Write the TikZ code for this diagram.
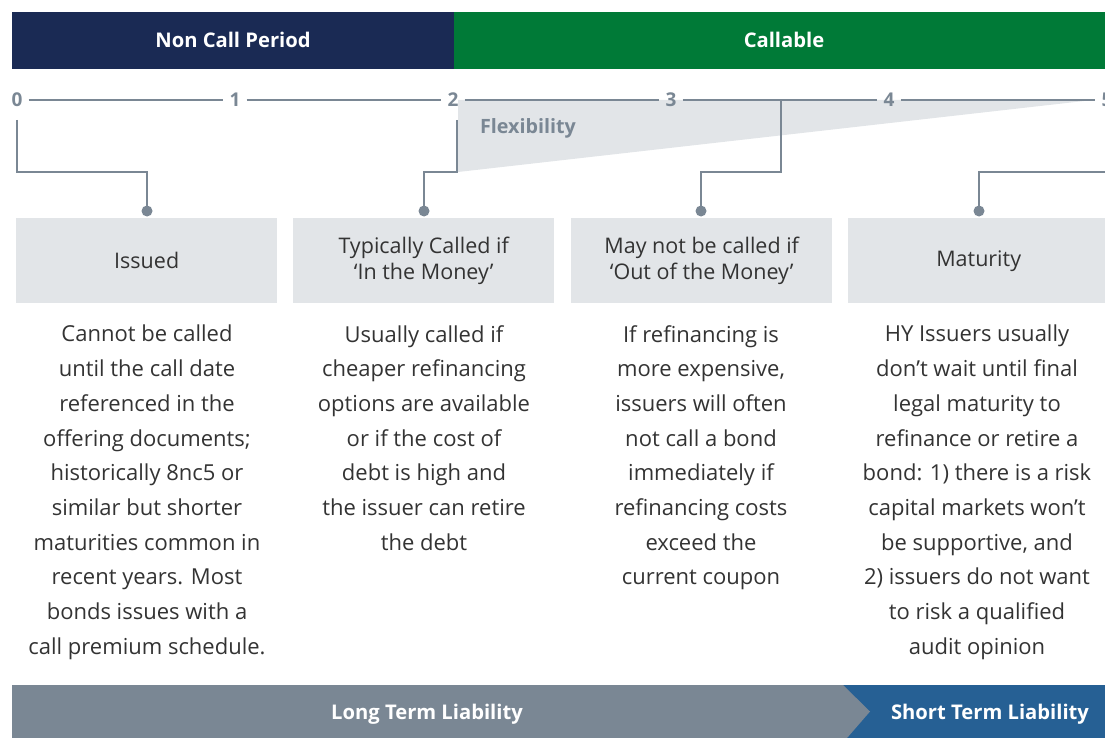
\documentclass[tikz,border=0pt]{standalone}
\usepackage{fontspec}
\setmainfont{Open Sans}
\definecolor{navy}{HTML}{1A2A54}
\definecolor{grn}{HTML}{007A37}
\definecolor{lgrey}{HTML}{E2E5E8}
\definecolor{mgrey}{HTML}{7A8794}
\definecolor{txt}{HTML}{333333}
\definecolor{blu}{HTML}{266094}
\begin{document}
\begin{tikzpicture}[x=1pt,y=-1pt,
  hdr/.style={text=white,font=\bfseries\fontsize{20.2}{22}\selectfont},
  num/.style={text=mgrey,font=\bfseries\fontsize{19}{22}\selectfont,inner sep=6pt},
  conn/.style={draw=mgrey,line width=2.4pt},
  tline/.style={draw=mgrey,line width=2.4pt},
  dotn/.style={circle,fill=mgrey,inner sep=0pt,minimum size=11pt},
  box/.style={fill=lgrey,draw=none,minimum width=261pt,minimum height=85pt,anchor=north west,inner sep=0pt,align=center,text=txt,font=\fontsize{21.5}{26}\selectfont},
  body/.style={anchor=north,inner sep=0pt,align=center,text=txt,font=\fontsize{22}{34.7}\selectfont}]
\useasboundingbox (0,0) rectangle (1105,738);
% header
\fill[navy] (12,12) rectangle (454,69);
\fill[grn] (454,12) rectangle (1105,69);
\node[hdr] (hnc) at (233,40) {Non Call Period};
\node[hdr] (hca) at (784,40) {Callable};
% flexibility wedge
\fill[lgrey] (458,100) -- (458,172) -- (1093,100) -- cycle;
\node[text=mgrey,font=\bfseries\fontsize{19.7}{22}\selectfont] (flex) at (528,128) {Flexibility};
% timeline
\node[num] (n0) at (17,100) {0};
\node[num] (n1) at (235,100) {1};
\node[num] (n2) at (453,100) {2};
\node[num] (n3) at (671,100) {3};
\node[num] (n4) at (889,100) {4};
\node[num] (n5) at (1107,100) {5};
\draw[tline] (n0) -- (n1);
\draw[tline] (n1) -- (n2);
\draw[tline] (n2) -- (n3);
\draw[tline] (n3) -- (n4);
\draw[tline] (n4) -- (n5);
% boxes
\node[box] (b1) at (16,218) {Issued};
\node[box] (b2) at (293,218) {Typically Called if\\‘In the Money’};
\node[box] (b3) at (571,218) {May not be called if\\‘Out of the Money’};
\node[box] (b4) at (848,218) {Maturity};
% dots
\node[dotn] (d1) at (147,211) {};
\node[dotn] (d2) at (424,211) {};
\node[dotn] (d3) at (701,211) {};
\node[dotn] (d4) at (979,211) {};
% connectors
\coordinate (s0) at (17,120);
\coordinate (s2) at (457,120);
\coordinate (s3) at (781,100);
\coordinate (s4) at (1110,172);
\draw[conn] (s0) -- (17,172) -| (d1.center);
\draw[conn] (s2) -- (457,172) -| (d2.center);
\draw[conn] (s3) -- (781,172) -| (d3.center);
\draw[conn] (s4) -| (d4.center);
% body texts
\node[body] (t1) at (147,325) {Cannot be called\\until the call date\\referenced in the\\offering documents;\\historically 8nc5 or\\similar but shorter\\maturities common in\\recent years. Most\\bonds issues with a\\call premium schedule.};
\node[body] (t2) at (424,325) {Usually called if\\cheaper refinancing\\options are available\\or if the cost of\\debt is high and\\the issuer can retire\\the debt};
\node[body] (t3) at (701,325) {If refinancing is\\more expensive,\\issuers will often\\not call a bond\\immediately if\\refinancing costs\\exceed the\\current coupon};
\node[body] (t4) at (977,325) {HY Issuers usually\\don’t wait until final\\legal maturity to\\refinance or retire a\\bond: 1) there is a risk\\capital markets won’t\\be supportive, and\\2) issuers do not want\\to risk a qualified\\audit opinion};
% bottom bar
\fill[blu] (840,685) rectangle (1105,738);
\fill[mgrey] (12,685) -- (843,685) -- (870,711.5) -- (847,738) -- (12,738) -- cycle;
\node[hdr] (lt) at (427,714) {Long Term Liability};
\node[hdr] (st) at (990,714) {Short Term Liability};
\end{tikzpicture}
\end{document}
